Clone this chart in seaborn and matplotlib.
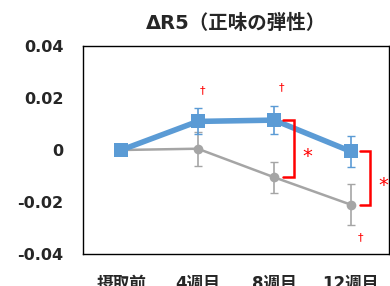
import numpy as np
import pandas as pd
import matplotlib
matplotlib.use("Agg")
import matplotlib.pyplot as plt
import seaborn as sns

# data
categories = ["摂取前", "4週目", "8週目", "12週目"]
test_mean = [0.0, 0.011, 0.0115, -0.0005]
test_err = [0.0, 0.005, 0.0055, 0.006]
ctrl_mean = [0.0, 0.0005, -0.0105, -0.021]
ctrl_err = [0.0, 0.0065, 0.006, 0.008]
yticks = [-0.04, -0.02, 0, 0.02, 0.04]
ytick_labels = ["-0.04", "-0.02", "0", "0.02", "0.04"]
dagger_idx = [1, 2, 3]
star_idx = [2, 3]

sns.set_style("white")
plt.rcParams["font.family"] = ["DejaVu Sans", "Noto Sans CJK JP"]

blue = "#5B9BD5"
gray = "#A5A5A5"

x = np.arange(len(categories))
df = pd.DataFrame({
    "x": np.concatenate([x, x]),
    "val": test_mean + ctrl_mean,
    "group": ["test"] * 4 + ["ctrl"] * 4,
})

fig = plt.figure(figsize=(3.9, 2.86), dpi=100)
ax = fig.add_axes([0.213, 0.112, 0.784, 0.727])

# control (gray)
ax.errorbar(x, ctrl_mean, yerr=ctrl_err, fmt="none", ecolor=gray, elinewidth=1.2, capsize=3, zorder=2)
sns.lineplot(data=df[df.group == "ctrl"], x="x", y="val", ax=ax, color=gray, lw=1.8,
             marker="o", markersize=7, markeredgewidth=0, zorder=3)
# test (blue)
sns.lineplot(data=df[df.group == "test"], x="x", y="val", ax=ax, color=blue, lw=4,
             marker="s", markersize=10, markeredgewidth=0, zorder=5)
ax.errorbar(x, test_mean, yerr=test_err, fmt="none", ecolor=blue, elinewidth=1.2, capsize=3, zorder=6)

# significance brackets and stars
for i in star_idx:
    x0, x1 = i + 0.12, i + 0.26
    top, bot = test_mean[i], ctrl_mean[i]
    ax.plot([x0, x1, x1, x0], [top, top, bot, bot], color="red", lw=1.8,
            solid_joinstyle="miter", zorder=7)
    ax.text(x1 + 0.17, (top + bot) / 2 - 0.003, "*", color="red", fontsize=14,
            ha="center", va="center")

# daggers
for i in dagger_idx:
    if i == 3:
        ax.text(i + 0.13, ctrl_mean[i] - ctrl_err[i] - 0.0045, "†", color="red",
                fontsize=8, ha="center", va="center")
    else:
        dx = 0.06 if i == 1 else 0.1
        ax.text(i + dx, test_mean[i] + test_err[i] + 0.007, "†",
                color="red", fontsize=8, ha="center", va="center")

ax.set_xlim(-0.5, 3.5)
ax.set_ylim(-0.04, 0.04)
ax.set_xticks(x)
ax.set_xticklabels(categories, fontsize=12, fontweight="bold")
ax.set_yticks(yticks)
ax.set_yticklabels(ytick_labels, fontsize=11.5, fontweight="bold")
ax.tick_params(axis="y", length=0, pad=14)
ax.tick_params(axis="x", length=0, pad=15)
ax.set_xlabel("")
ax.set_ylabel("")
for s in ax.spines.values():
    s.set_color("black")
    s.set_linewidth(1)
ax.legend_ = None

ax.set_title("ΔR5（正味の弾性）", fontsize=14, fontweight="bold", pad=12,
             family=["DejaVu Sans", "Noto Sans CJK JP"])

fig.savefig("out.png", dpi=100)
